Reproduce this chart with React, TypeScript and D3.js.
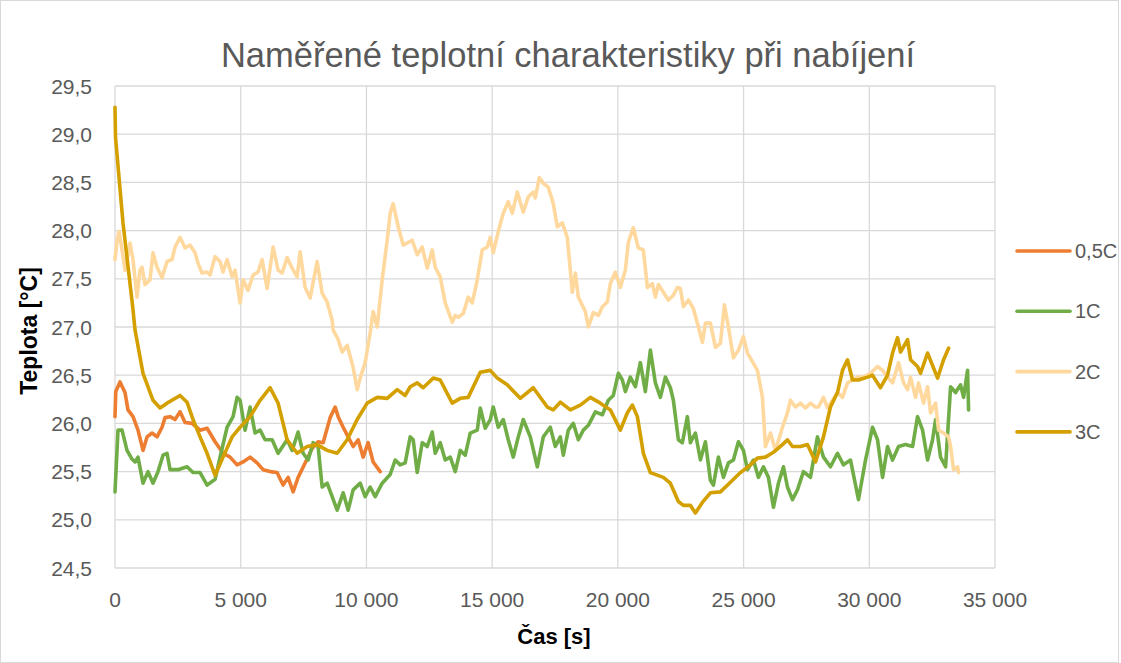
import React from "react";
import * as d3 from "d3";

// time [s], temperature [°C]
const c05: [number, number][] = [
  [0, 26.07], [30, 26.33], [199, 26.43], [398, 26.32], [517, 26.14], [716, 26.07], [915, 25.93], [1114, 25.72],
  [1274, 25.86], [1473, 25.9], [1672, 25.86], [1871, 25.96], [1990, 26.06], [2189, 26.07], [2388, 26.04], [2587, 26.12],
  [2786, 26.01], [3064, 26.0], [3383, 25.93], [3662, 25.95], [3980, 25.81], [4298, 25.69], [4577, 25.65], [4856, 25.57],
  [5094, 25.6], [5373, 25.65], [5651, 25.59], [5890, 25.52], [6169, 25.5], [6447, 25.49], [6686, 25.36], [6885, 25.44],
  [7084, 25.29], [7283, 25.44], [7562, 25.59], [7841, 25.74], [8079, 25.81], [8278, 25.8], [8557, 26.06], [8756, 26.17],
  [8875, 26.07], [9074, 25.96], [9273, 25.86], [9472, 25.76], [9671, 25.83], [9870, 25.65], [10069, 25.8], [10268, 25.6],
  [10547, 25.5],
];

const c1: [number, number][] = [
  [0, 25.29], [119, 25.93], [279, 25.93], [478, 25.72], [677, 25.63], [796, 25.6], [915, 25.65], [1114, 25.38],
  [1313, 25.5], [1512, 25.38], [1711, 25.5], [1910, 25.67], [2070, 25.69], [2189, 25.52], [2507, 25.52], [2866, 25.55],
  [3104, 25.49], [3383, 25.49], [3662, 25.36], [3980, 25.42], [4179, 25.65], [4458, 25.96], [4696, 26.07], [4856, 26.27],
  [4975, 26.24], [5174, 25.93], [5373, 26.17], [5572, 25.9], [5771, 25.93], [5970, 25.83], [6249, 25.83], [6487, 25.69],
  [6846, 25.83], [7045, 25.72], [7283, 25.91], [7482, 25.69], [7681, 25.62], [7880, 25.8], [8079, 25.76], [8239, 25.34],
  [8438, 25.38], [8637, 25.24], [8836, 25.1], [9074, 25.28], [9273, 25.1], [9472, 25.31], [9751, 25.38], [9950, 25.24],
  [10149, 25.34], [10348, 25.24], [10627, 25.38], [10945, 25.47], [11144, 25.62], [11343, 25.57], [11542, 25.59], [11741, 25.86],
  [11860, 25.83], [12020, 25.49], [12219, 25.8], [12418, 25.76], [12617, 25.91], [12736, 25.69], [12935, 25.8], [13134, 25.62],
  [13333, 25.65], [13532, 25.5], [13731, 25.72], [13930, 25.67], [14129, 25.9], [14408, 25.93], [14527, 26.16], [14726, 25.95],
  [14925, 26.04], [15044, 26.17], [15243, 25.96], [15442, 26.04], [15641, 25.83], [15840, 25.65], [16039, 25.86], [16238, 26.04],
  [16517, 25.86], [16796, 25.55], [17035, 25.86], [17313, 25.96], [17512, 25.76], [17711, 25.86], [17831, 25.67], [18030, 25.93],
  [18229, 26.0], [18428, 25.83], [18627, 25.93], [18826, 25.98], [19104, 26.12], [19383, 26.09], [19621, 26.24], [19820, 26.29],
  [20019, 26.52], [20179, 26.45], [20298, 26.33], [20497, 26.48], [20696, 26.38], [20895, 26.63], [21094, 26.33], [21293, 26.76],
  [21492, 26.42], [21691, 26.27], [21890, 26.48], [22089, 26.37], [22208, 26.24], [22407, 25.83], [22566, 25.8], [22765, 26.07],
  [22885, 25.8], [23084, 25.9], [23283, 25.62], [23482, 25.81], [23681, 25.41], [23800, 25.36], [23999, 25.65], [24198, 25.44],
  [24397, 25.59], [24596, 25.62], [24795, 25.81], [24994, 25.72], [25154, 25.52], [25392, 25.62], [25591, 25.44], [25790, 25.55],
  [25989, 25.44], [26188, 25.13], [26387, 25.38], [26586, 25.55], [26745, 25.34], [26944, 25.21], [27143, 25.31], [27382, 25.5],
  [27661, 25.44], [27939, 25.86], [28178, 25.65], [28456, 25.55], [28735, 25.69], [28974, 25.57], [29253, 25.62], [29571, 25.21],
  [29850, 25.62], [30129, 25.96], [30328, 25.83], [30527, 25.44], [30726, 25.76], [30925, 25.62], [31164, 25.76], [31443, 25.78],
  [31721, 25.76], [31920, 26.07], [32119, 25.93], [32318, 25.62], [32517, 25.83], [32636, 26.04], [32835, 25.65], [33034, 25.55],
  [33233, 26.38], [33432, 26.32], [33631, 26.4], [33750, 26.27], [33909, 26.55], [33949, 26.14],
];

const c2: [number, number][] = [
  [0, 27.7], [80, 27.9], [159, 27.99], [279, 27.8], [398, 27.59], [597, 27.87], [716, 27.7], [876, 27.31],
  [995, 27.59], [1075, 27.62], [1194, 27.44], [1393, 27.49], [1512, 27.77], [1672, 27.62], [1871, 27.51], [2070, 27.68],
  [2269, 27.7], [2388, 27.83], [2587, 27.93], [2786, 27.82], [2985, 27.85], [3184, 27.77], [3303, 27.66], [3462, 27.56],
  [3662, 27.57], [3781, 27.54], [3980, 27.73], [4179, 27.68], [4298, 27.57], [4458, 27.7], [4657, 27.52], [4776, 27.59],
  [4975, 27.25], [5094, 27.49], [5293, 27.38], [5492, 27.54], [5691, 27.57], [5851, 27.7], [6050, 27.4], [6289, 27.83],
  [6487, 27.59], [6647, 27.56], [6846, 27.72], [7045, 27.61], [7244, 27.52], [7363, 27.78], [7562, 27.41], [7761, 27.3],
  [8040, 27.68], [8239, 27.35], [8438, 27.26], [8637, 27.07], [8676, 26.97], [8875, 26.87], [9035, 26.74], [9234, 26.81],
  [9472, 26.58], [9632, 26.35], [9751, 26.47], [9950, 26.63], [10149, 26.94], [10268, 27.16], [10428, 27.0], [10627, 27.49],
  [10826, 27.9], [10945, 28.18], [11064, 28.28], [11263, 28.04], [11462, 27.85], [11820, 27.9], [12020, 27.75], [12219, 27.83],
  [12418, 27.61], [12617, 27.8], [12736, 27.62], [12935, 27.52], [13134, 27.25], [13413, 27.05], [13532, 27.12], [13651, 27.1],
  [13850, 27.14], [14049, 27.31], [14209, 27.25], [14408, 27.49], [14607, 27.8], [14806, 27.83], [14925, 27.93], [15044, 27.77],
  [15243, 27.99], [15442, 28.18], [15641, 28.3], [15800, 28.18], [15999, 28.4], [16238, 28.19], [16437, 28.35], [16636, 28.4],
  [16716, 28.34], [16875, 28.55], [17035, 28.49], [17233, 28.45], [17432, 28.28], [17591, 28.04], [17790, 28.08], [17989, 27.93],
  [18189, 27.36], [18308, 27.56], [18428, 27.31], [18706, 27.16], [18826, 27.0], [19025, 27.15], [19224, 27.12], [19383, 27.21],
  [19582, 27.26], [19701, 27.45], [19900, 27.57], [20099, 27.41], [20298, 27.59], [20417, 27.88], [20616, 28.03], [20815, 27.82],
  [21014, 27.8], [21174, 27.41], [21373, 27.45], [21492, 27.31], [21611, 27.44], [21810, 27.36], [22009, 27.28], [22208, 27.33],
  [22368, 27.41], [22487, 27.4], [22606, 27.21], [22805, 27.28], [23004, 27.19], [23203, 27.0], [23362, 26.84], [23482, 27.04],
  [23681, 27.04], [23880, 26.79], [24079, 26.83], [24238, 27.23], [24397, 27.0], [24596, 26.68], [24795, 26.76], [24994, 26.9],
  [25154, 26.73], [25353, 26.64], [25551, 26.55], [25750, 26.27], [25870, 25.76], [26069, 25.9], [26268, 25.72], [26546, 25.96],
  [26745, 26.11], [26864, 26.24], [27063, 26.17], [27263, 26.21], [27462, 26.16], [27661, 26.21], [27860, 26.17], [27979, 26.17],
  [28178, 26.27], [28337, 26.16], [28536, 26.24], [28735, 26.32], [28934, 26.27], [29133, 26.42], [29333, 26.45], [29532, 26.48],
  [29770, 26.48], [30049, 26.52], [30328, 26.59], [30527, 26.55], [30726, 26.48], [30925, 26.42], [31164, 26.63], [31363, 26.42],
  [31522, 26.35], [31641, 26.48], [31840, 26.27], [31960, 26.42], [32159, 26.21], [32318, 26.38], [32437, 26.11], [32636, 26.21],
  [32755, 25.93], [32955, 25.9], [33154, 25.86], [33233, 25.76], [33353, 25.52], [33512, 25.55], [33552, 25.49],
];

const c3: [number, number][] = [
  [0, 29.28], [20, 28.97], [318, 28.08], [716, 27.18], [796, 26.97], [1114, 26.52], [1512, 26.24], [1791, 26.16],
  [2070, 26.21], [2587, 26.29], [2866, 26.22], [3104, 26.04], [3383, 25.86], [3662, 25.69], [3980, 25.46], [4298, 25.65],
  [4657, 25.86], [4975, 25.96], [5373, 26.07], [5771, 26.24], [6169, 26.37], [6487, 26.21], [6846, 25.83], [7244, 25.69],
  [7642, 25.76], [8040, 25.78], [8438, 25.72], [8836, 25.69], [9234, 25.83], [9632, 26.04], [10030, 26.21], [10428, 26.27],
  [10826, 26.26], [11224, 26.35], [11542, 26.29], [11741, 26.38], [12020, 26.42], [12258, 26.37], [12656, 26.47], [12935, 26.45],
  [13413, 26.21], [13731, 26.26], [14049, 26.27], [14527, 26.53], [14925, 26.55], [15204, 26.47], [15602, 26.4], [16119, 26.26],
  [16636, 26.37], [17194, 26.17], [17432, 26.14], [17711, 26.22], [18109, 26.14], [18507, 26.19], [18905, 26.27], [19303, 26.21],
  [19701, 26.14], [20099, 25.93], [20378, 26.11], [20577, 26.19], [20776, 26.07], [21014, 25.69], [21293, 25.49], [21810, 25.44],
  [22089, 25.38], [22407, 25.19], [22606, 25.15], [22885, 25.15], [23084, 25.07], [23362, 25.18], [23681, 25.28], [24079, 25.29],
  [24477, 25.39], [24875, 25.49], [25273, 25.57], [25551, 25.64], [25870, 25.65], [26188, 25.7], [26546, 25.78], [26745, 25.83],
  [26944, 25.76], [27263, 25.76], [27541, 25.78], [27860, 25.6], [28178, 25.86], [28456, 26.17], [28735, 26.32], [28934, 26.55],
  [29133, 26.66], [29333, 26.45], [29571, 26.45], [29930, 26.48], [30129, 26.5], [30447, 26.37], [30726, 26.5], [30925, 26.73],
  [31124, 26.89], [31243, 26.74], [31522, 26.87], [31641, 26.66], [31920, 26.59], [32039, 26.52], [32318, 26.73], [32716, 26.47],
  [32955, 26.66], [33154, 26.78],
];

const series = [
  { name: "0,5C", color: "#ED7D31", data: c05 },
  { name: "1C", color: "#70AD47", data: c1 },
  { name: "2C", color: "#FFD89E", data: c2 },
  { name: "3C", color: "#D4A000", data: c3 },
];

const xTicks = [0, 5000, 10000, 15000, 20000, 25000, 30000, 35000];
const yTicks = [24.5, 25, 25.5, 26, 26.5, 27, 27.5, 28, 28.5, 29, 29.5];

const W = 1121;
const H = 663;
const left = 115, right = 995, top = 86, bottom = 568;
const font = "'Liberation Sans', Arial, sans-serif";
const textColor = "#595959";

export default function App() {
  const x = d3.scaleLinear().domain([0, 35000]).range([left, right]);
  const y = d3.scaleLinear().domain([24.5, 29.5]).range([bottom, top]);
  const line = d3.line<[number, number]>().x(d => x(d[0])).y(d => y(d[1])).curve(d3.curveLinear);
  const fmtX = (v: number) => d3.format(",")(v).replace(/,/g, " ");
  const fmtY = (v: number) => v.toFixed(1).replace(".", ",");

  return (
    <svg width={W} height={H} style={{ position: "absolute", left: 0, top: 0 }} fontFamily={font}>
      <rect x={0.5} y={0.5} width={W - 3} height={H - 1} fill="#fff" stroke="#d9d9d9" />
      <text x={568} y={67} textAnchor="middle" fontSize={34.5} fill={textColor}>
        Naměřené teplotní charakteristiky při nabíjení
      </text>
      {yTicks.map(t => (
        <line key={"gy" + t} x1={left} x2={right} y1={y(t)} y2={y(t)} stroke="#d9d9d9" strokeWidth={1.3} />
      ))}
      {xTicks.map(t => (
        <line key={"gx" + t} x1={x(t)} x2={x(t)} y1={top} y2={bottom} stroke="#d9d9d9" strokeWidth={1.3} />
      ))}
      {yTicks.map(t => (
        <text key={"ty" + t} x={92} y={y(t) + 7.5} textAnchor="end" fontSize={21} fill={textColor}>
          {fmtY(t)}
        </text>
      ))}
      {xTicks.map(t => (
        <text key={"tx" + t} x={x(t)} y={607} textAnchor="middle" fontSize={21} fill={textColor}>
          {fmtX(t)}
        </text>
      ))}
      {series.map(s => (
        <path key={s.name} d={line(s.data) || ""} fill="none" stroke={s.color} strokeWidth={3.6}
          strokeLinejoin="round" strokeLinecap="round" />
      ))}
      <text x={554} y={644} textAnchor="middle" fontSize={22} fontWeight="bold" fill="#000">Čas [s]</text>
      <text transform={`translate(37,${331}) rotate(-90)`} textAnchor="middle" fontSize={23}
        fontWeight="bold" fill="#000">Teplota [°C]</text>
      {series.map((s, i) => (
        <g key={"lg" + s.name} transform={`translate(1017,${251 + i * 60.3})`}>
          <line x1={0} x2={53} y1={0} y2={0} stroke={s.color} strokeWidth={3.6} strokeLinecap="round" />
          <text x={58} y={7} fontSize={20} fill={textColor}>{s.name}</text>
        </g>
      ))}
    </svg>
  );
}
